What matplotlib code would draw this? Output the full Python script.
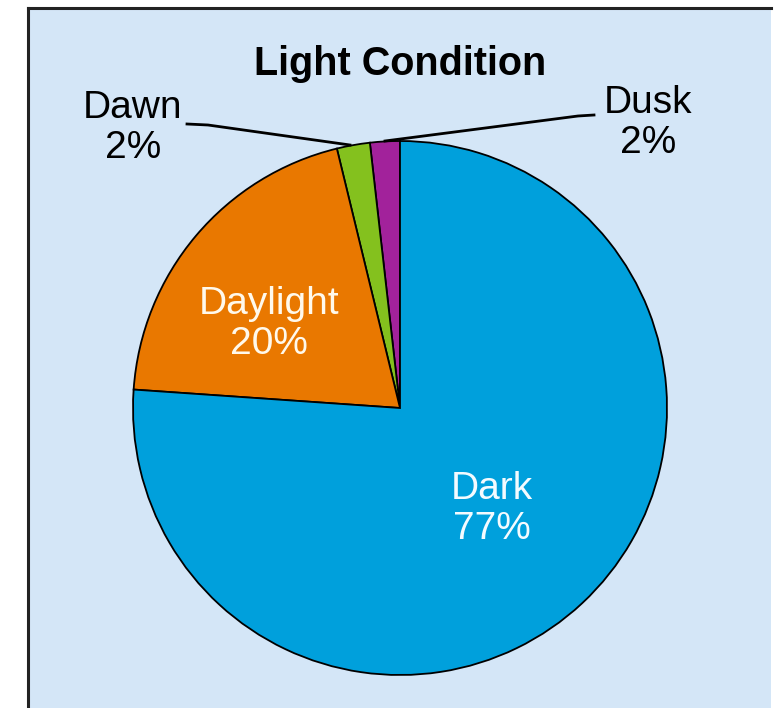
import matplotlib
matplotlib.use("Agg")
import matplotlib.pyplot as plt
from matplotlib.patches import Rectangle

plt.rcParams['font.family'] = ['Liberation Sans', 'DejaVu Sans']

categories = ['Dusk', 'Dawn', 'Daylight', 'Dark']
values = [1.8, 2.0, 20.1, 76.1]
pct_labels = ['2%', '2%', '20%', '77%']
colors = ['#A2229B', '#84C11E', '#E97800', '#00A0DC']

W, H = 782, 708
fig = plt.figure(figsize=(W / 100, H / 100), dpi=100)
fig.patch.set_facecolor('white')

ax = fig.add_axes([0, 0, 1, 1])
ax.patch.set_alpha(0)

def y(p):
    return H - p

# light blue panel with black left / top border
ax.add_patch(Rectangle((28, 0), 771 - 28, H - 8, facecolor='#D4E6F7',
                       edgecolor='none', zorder=0))
ax.plot([28, 28], [0, y(8)], color='#222222', lw=2.2, zorder=1)
ax.plot([28, 771], [y(8), y(8)], color='#222222', lw=2.2, zorder=1)

cx, cy, r = 400, y(408), 267
wedges, _ = ax.pie(values, colors=colors, startangle=90, counterclock=True,
                   center=(cx, cy), radius=r,
                   wedgeprops=dict(edgecolor='black', linewidth=1.3, zorder=2))
ax.set_xlim(0, W)
ax.set_ylim(0, H)
ax.set_aspect('equal')
ax.axis('off')

ax.text(400, y(64), 'Light Condition', ha='center', va='center',
        fontsize=28.5, fontweight='bold', color='black')

# inside labels
ax.text(269, y(324), 'Daylight\n' + pct_labels[2], ha='center', va='center',
        fontsize=28, color='#FFF9EC', linespacing=1.15, zorder=3)
ax.text(492, y(509), 'Dark\n' + pct_labels[3], ha='center', va='center',
        fontsize=28, color='#F4FBFF', linespacing=1.15, zorder=3)

# outside labels
ax.text(133, y(128), 'Dawn\n' + pct_labels[1], ha='center', va='center',
        fontsize=28, color='black', linespacing=1.15, zorder=3)
ax.text(648, y(123), 'Dusk\n' + pct_labels[0], ha='center', va='center',
        fontsize=28, color='black', linespacing=1.15, zorder=3)

# leader lines
ax.plot([187, 208, 350], [y(124), y(125), y(145)], color='black', lw=2, zorder=3)
ax.plot([594, 578, 385], [y(115), y(116), y(141)], color='black', lw=2, zorder=3)

fig.savefig('out.png', dpi=100)
